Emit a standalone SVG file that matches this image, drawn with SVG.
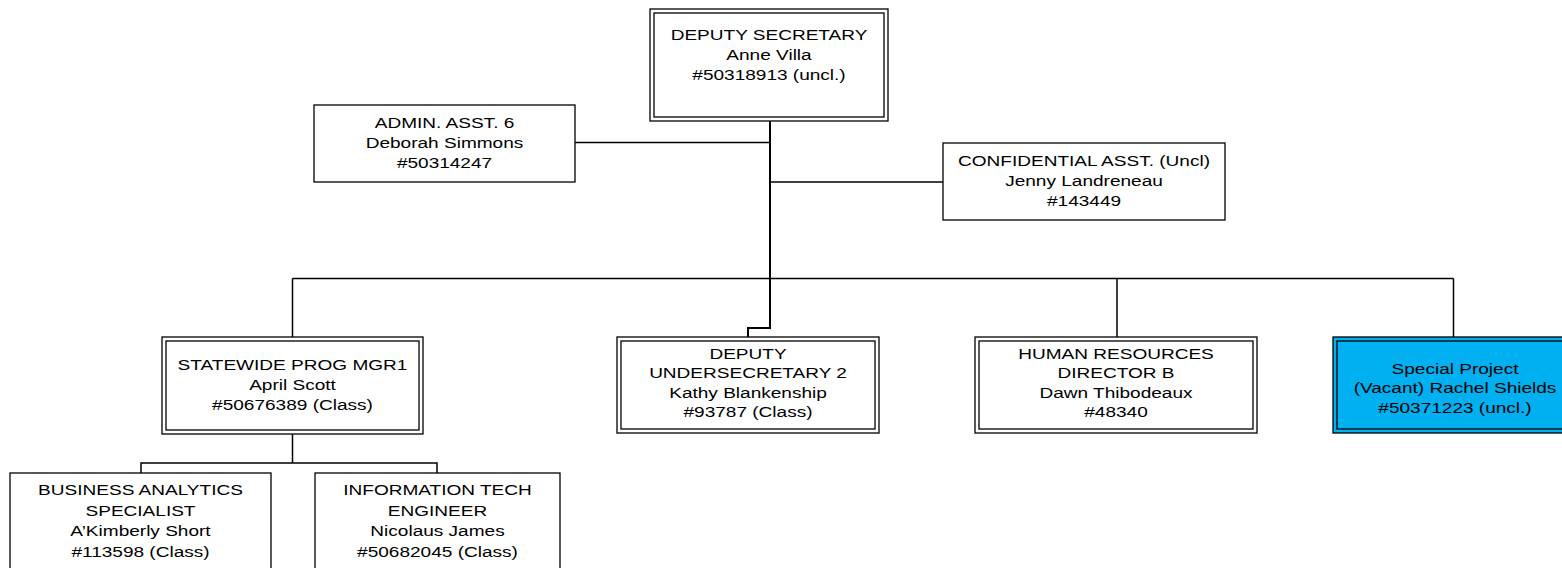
<svg xmlns="http://www.w3.org/2000/svg" width="1562" height="568" viewBox="0 0 1562 568">
<style>
.bg{fill:#ffffff}
.box{fill:#ffffff;stroke:#000;stroke-width:1.3}
.inner{fill:none;stroke:#000;stroke-width:1.3}
.blue{fill:#00b0f0;stroke:#000;stroke-width:1.3}
.lbl{font-family:"Liberation Sans",Arial,sans-serif;font-size:15px;text-anchor:middle;fill:#000}
.con{fill:none;stroke:#000;stroke-width:1.5}
.trunk{fill:none;stroke:#000;stroke-width:2}
</style>
<rect class="bg" x="0" y="0" width="1562" height="568"/>
<g id="connectors">
<path class="trunk" d="M770 121 V328 H748 V337"/>
<path class="con" d="M575 142.5 H770"/>
<path class="con" d="M770 182 H943"/>
<path class="con" d="M292.5 278.5 H1453.5"/>
<path class="con" d="M292.5 278.5 V337"/>
<path class="con" d="M1117 278.5 V337"/>
<path class="con" d="M1453.5 278.5 V337"/>
<path class="con" d="M292.5 434 V463 M141 473 V463 H437 V473"/>
</g>
<g id="deputy-secretary">
<rect class="box" x="650" y="9" width="238" height="112"/>
<rect class="inner" x="654" y="13" width="230" height="104"/>
<text class="lbl" transform="translate(769 0) scale(1.27 1)"><tspan x="0" y="40">DEPUTY SECRETARY</tspan><tspan x="0" y="60">Anne Villa</tspan><tspan x="0" y="80">#50318913 (uncl.)</tspan></text>
</g>
<g id="admin-asst">
<rect class="box" x="314" y="105" width="261" height="77"/>
<text class="lbl" transform="translate(444.5 0) scale(1.27 1)"><tspan x="0" y="128">ADMIN. ASST. 6</tspan><tspan x="0" y="148">Deborah Simmons</tspan><tspan x="0" y="168">#50314247</tspan></text>
</g>
<g id="confidential-asst">
<rect class="box" x="943" y="143" width="282" height="77"/>
<text class="lbl" transform="translate(1084 0) scale(1.27 1)"><tspan x="0" y="166">CONFIDENTIAL ASST. (Uncl)</tspan><tspan x="0" y="186">Jenny Landreneau</tspan><tspan x="0" y="206">#143449</tspan></text>
</g>
<g id="statewide-prog-mgr">
<rect class="box" x="162" y="337" width="261" height="97"/>
<rect class="inner" x="166" y="341" width="253" height="89"/>
<text class="lbl" transform="translate(292.5 0) scale(1.27 1)"><tspan x="0" y="370">STATEWIDE PROG MGR1</tspan><tspan x="0" y="390">April Scott</tspan><tspan x="0" y="410">#50676389 (Class)</tspan></text>
</g>
<g id="deputy-undersecretary">
<rect class="box" x="617" y="337" width="262" height="96"/>
<rect class="inner" x="621" y="341" width="254" height="88"/>
<text class="lbl" transform="translate(748 0) scale(1.27 1)"><tspan x="0" y="359">DEPUTY</tspan><tspan x="0" y="378.5">UNDERSECRETARY 2</tspan><tspan x="0" y="398">Kathy Blankenship</tspan><tspan x="0" y="417.5">#93787 (Class)</tspan></text>
</g>
<g id="hr-director">
<rect class="box" x="975" y="337" width="282" height="96"/>
<rect class="inner" x="979" y="341" width="274" height="88"/>
<text class="lbl" transform="translate(1116 0) scale(1.27 1)"><tspan x="0" y="359">HUMAN RESOURCES</tspan><tspan x="0" y="378.5">DIRECTOR B</tspan><tspan x="0" y="398">Dawn Thibodeaux</tspan><tspan x="0" y="417.5">#48340</tspan></text>
</g>
<g id="special-project">
<rect class="blue" x="1333" y="337" width="244" height="96"/>
<rect class="inner" x="1337" y="341" width="236" height="88"/>
<text class="lbl" transform="translate(1455 0) scale(1.27 1)"><tspan x="0" y="374">Special Project</tspan><tspan x="0" y="393.5">(Vacant) Rachel Shields</tspan><tspan x="0" y="413">#50371223 (uncl.)</tspan></text>
</g>
<g id="business-analytics">
<rect class="box" x="10" y="473" width="261" height="110"/>
<text class="lbl" transform="translate(140.5 0) scale(1.27 1)"><tspan x="0" y="495">BUSINESS ANALYTICS</tspan><tspan x="0" y="516">SPECIALIST</tspan><tspan x="0" y="536">A’Kimberly Short</tspan><tspan x="0" y="557">#113598 (Class)</tspan></text>
</g>
<g id="it-engineer">
<rect class="box" x="315" y="473" width="245" height="110"/>
<text class="lbl" transform="translate(437.5 0) scale(1.27 1)"><tspan x="0" y="495">INFORMATION TECH</tspan><tspan x="0" y="516">ENGINEER</tspan><tspan x="0" y="536">Nicolaus James</tspan><tspan x="0" y="557">#50682045 (Class)</tspan></text>
</g>
</svg>
